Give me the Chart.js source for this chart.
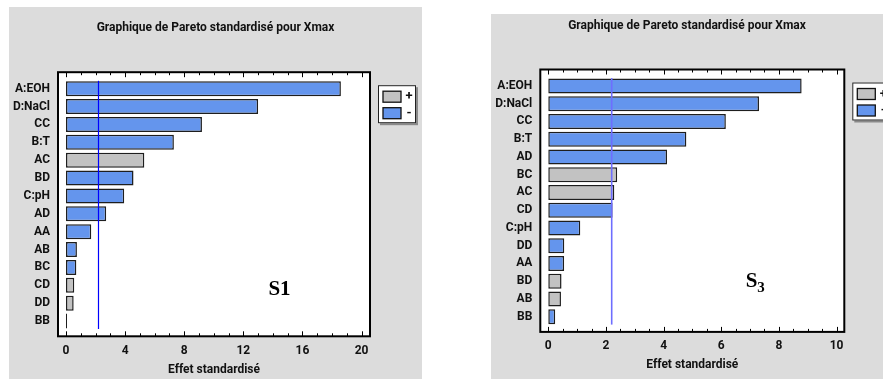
<!DOCTYPE html>
<html>
<head>
<meta charset="utf-8">
<script src="https://cdn.jsdelivr.net/npm/chart.js@4.4.1/dist/chart.umd.min.js"></script>
<style>
  html, body { margin: 0; padding: 0; background: #ffffff; width: 883px; height: 379px; overflow: hidden; }
  .panel { position: absolute; background: #dcdcdc; }
  #panelS1 { left: 9px; top: 7px; width: 413px; height: 372px; }
  #panelS3 { left: 491px; top: 14px; width: 392px; height: 365px; }
  canvas { display: block; }
</style>
</head>
<body>
<div class="panel" id="panelS1"><canvas id="chartS1" width="413" height="372"></canvas></div>
<div class="panel" id="panelS3"><canvas id="chartS3" width="392" height="365"></canvas></div>
<script>
// Standardized Pareto charts of the effects on Xmax
const chartTitle = 'Graphique de Pareto standardisé pour Xmax';
const xAxisTitle = 'Effet standardisé';
const legendLabels = ['+', '-'];

// S1 design
const s1Factors = ['A:EOH', 'D:NaCl', 'CC', 'B:T', 'AC', 'BD', 'C:pH', 'AD', 'AA', 'AB', 'BC', 'CD', 'DD', 'BB'];
const s1Effects = [18.6, 13.0, 9.2, 7.3, 5.3, 4.57, 3.94, 2.72, 1.71, 0.74, 0.70, 0.56, 0.52, 0.07];
const s1Signs   = ['-', '-', '-', '-', '+', '-', '-', '-', '-', '-', '-', '+', '+', '-'];
const s1Ticks = [0, 4, 8, 12, 16, 20];
const s1Critical = 2.2;

// S3 design
const s3Factors = ['A:EOH', 'D:NaCl', 'CC', 'B:T', 'AD', 'BC', 'AC', 'CD', 'C:pH', 'DD', 'AA', 'BD', 'AB', 'BB'];
const s3Effects = [8.79, 7.31, 6.16, 4.79, 4.12, 2.39, 2.29, 2.23, 1.11, 0.555, 0.55, 0.46, 0.44, 0.24];
const s3Signs   = ['-', '-', '-', '-', '-', '+', '+', '-', '-', '-', '-', '+', '+', '-'];
const s3Ticks = [0, 2, 4, 6, 8, 10];
const s3Critical = 2.2;

const GREY = '#c2c2c2';
const BLUE = '#6495ed';
const EDGE = '#1e1e1e';
const SANS = 'Roboto, "Liberation Sans", Arial, sans-serif';
const SERIF = '"Liberation Serif", "Times New Roman", serif';

// Frame, ticks, critical line, legend and series tag
const paretoDecor = {
  id: 'paretoDecor',
  beforeDatasetsDraw(chart, args, o) {
    const { ctx, chartArea: a } = chart;
    ctx.save();
    ctx.fillStyle = '#ffffff';
    ctx.fillRect(a.left, a.top - o.padTop, a.right - a.left, a.bottom - a.top + o.padTop + o.padBottom);
    ctx.restore();
  },
  afterDatasetsDraw(chart, args, o) {
    const { ctx, chartArea: a } = chart;
    const xs = chart.scales.x;
    const top = a.top - o.padTop;
    const bottom = a.bottom + o.padBottom;
    ctx.save();

    // critical value line
    const cx = xs.getPixelForValue(o.critical);
    ctx.strokeStyle = o.lineColor;
    ctx.lineWidth = o.lineWidth;
    ctx.beginPath();
    ctx.moveTo(cx, a.top + 1);
    ctx.lineTo(cx, a.bottom - 1);
    ctx.stroke();

    // frame
    ctx.strokeStyle = '#000000';
    ctx.lineWidth = 2;
    ctx.strokeRect(a.left, top, a.right - a.left, bottom - top);

    // inward ticks, top and bottom
    ctx.lineWidth = 1;
    const first = o.ticks[0], last = o.ticks[o.ticks.length - 1];
    for (let v = first; v <= last + 1e-9; v += o.minorStep) {
      const isMajor = o.ticks.some(t => Math.abs(t - v) < 1e-9);
      const len = isMajor ? 5 : 3;
      const px = Math.round(xs.getPixelForValue(v)) + 0.5;
      ctx.beginPath();
      ctx.moveTo(px, top);
      ctx.lineTo(px, top + len);
      ctx.moveTo(px, bottom);
      ctx.lineTo(px, bottom - len);
      ctx.stroke();
    }

    // legend box
    const bx = a.right + 8, by = top + 13, bw = 38, bh = 38;
    ctx.fillStyle = '#8a8a8a';
    ctx.fillRect(bx + 2, by + 2, bw, bh);
    ctx.fillStyle = '#ffffff';
    ctx.fillRect(bx, by, bw, bh);
    ctx.strokeStyle = '#222222';
    ctx.lineWidth = 1;
    ctx.strokeRect(bx + 0.5, by + 0.5, bw - 1, bh - 1);
    chart.data.datasets.forEach((ds, i) => {
      const sy = by + 6 + i * 16.5;
      ctx.fillStyle = ds.backgroundColor;
      ctx.fillRect(bx + 5, sy, 18, 11);
      ctx.strokeStyle = '#111111';
      ctx.lineWidth = 1.3;
      ctx.strokeRect(bx + 5, sy, 18, 11);
      ctx.fillStyle = '#111111';
      ctx.font = 'bold 13px ' + SANS;
      ctx.textAlign = 'center';
      ctx.textBaseline = 'middle';
      ctx.fillText(ds.label, bx + 31, sy + 6);
    });

    // series tag
    ctx.fillStyle = '#000000';
    ctx.textBaseline = 'alphabetic';
    ctx.textAlign = 'left';
    ctx.font = 'bold 21px ' + SERIF;
    const mainW = ctx.measureText(o.tag).width;
    let subW = 0;
    if (o.tagSub) {
      ctx.font = 'bold 15px ' + SERIF;
      subW = ctx.measureText(o.tagSub).width;
    }
    const tx = a.left + o.tagX * (a.right - a.left) - (mainW + subW) / 2;
    const ty = top + o.tagY * (bottom - top);
    ctx.font = 'bold 21px ' + SERIF;
    ctx.fillText(o.tag, tx, ty);
    if (o.tagSub) {
      ctx.font = 'bold 15px ' + SERIF;
      ctx.fillText(o.tagSub, tx + mainW, ty + 5);
    }
    ctx.restore();
  }
};

function splitBySign(effects, signs, sign) {
  return effects.map((v, i) => (signs[i] === sign ? v : null));
}

function makePareto(canvasId, factors, effects, signs, ticks, critical, view) {
  const font = { family: SANS, size: 12, weight: 'bold' };
  return new Chart(document.getElementById(canvasId), {
    type: 'bar',
    data: {
      labels: factors,
      datasets: [
        { label: legendLabels[0], data: splitBySign(effects, signs, '+'), backgroundColor: GREY },
        { label: legendLabels[1], data: splitBySign(effects, signs, '-'), backgroundColor: BLUE }
      ]
    },
    options: {
      indexAxis: 'y',
      responsive: false,
      animation: false,
      devicePixelRatio: 1,
      datasets: {
        bar: {
          borderColor: EDGE,
          borderWidth: 1.5,
          borderSkipped: false,
          barPercentage: 0.84,
          categoryPercentage: 1
        }
      },
      layout: { padding: { left: 0, top: 0, right: 0, bottom: view.bottom } },
      scales: {
        x: {
          type: 'linear',
          stacked: true,
          min: view.xMin,
          max: view.xMax,
          afterBuildTicks: s => { s.ticks = ticks.map(v => ({ value: v })); },
          afterFit: s => { s.height = 49; },
          grid: { display: false, drawTicks: false },
          border: { display: false },
          ticks: { font, color: '#111111', padding: 13.3, maxRotation: 0, autoSkip: false },
          title: { display: true, text: xAxisTitle, font, color: '#111111', padding: { top: 0, bottom: 2.3 } }
        },
        y: {
          type: 'category',
          stacked: true,
          offset: true,
          afterFit: s => { s.width = view.left; },
          grid: { display: false, drawTicks: false },
          border: { display: false },
          ticks: { font, color: '#111111', padding: 8, autoSkip: false }
        },
        // empty right-hand band that holds the legend
        legendBand: {
          type: 'category',
          position: 'right',
          offset: true,
          afterFit: s => { s.width = view.right; },
          grid: { display: false, drawTicks: false },
          border: { display: false },
          ticks: { display: false }
        }
      },
      plugins: {
        legend: { display: false },
        tooltip: { enabled: false },
        title: {
          display: true,
          text: chartTitle,
          color: '#111111',
          font: { family: SANS, size: 12, weight: 'bold', lineHeight: 1.2 },
          padding: { top: view.titleTop, bottom: view.titleBottom }
        },
        paretoDecor: {
          critical,
          ticks,
          minorStep: view.minorStep,
          padTop: 7.6,
          padBottom: 6.3,
          lineColor: view.lineColor,
          lineWidth: view.lineWidth,
          tag: view.tag,
          tagSub: view.tagSub,
          tagX: view.tagX,
          tagY: view.tagY
        }
      }
    },
    plugins: [paretoDecor]
  });
}

makePareto('chartS1', s1Factors, s1Effects, s1Signs, s1Ticks, s1Critical, {
  left: 49, right: 52, bottom: 0, titleTop: 13.8, titleBottom: 44.6,
  xMin: -0.54, xMax: 20.57, minorStep: 1,
  lineColor: '#0000ff', lineWidth: 1.2,
  tag: 'S1', tagSub: '', tagX: 0.71, tagY: 0.845
});

makePareto('chartS3', s3Factors, s3Effects, s3Signs, s3Ticks, s3Critical, {
  left: 49.3, right: 38.7, bottom: 4.4, titleTop: 4.8, titleBottom: 43.9,
  xMin: -0.277, xMax: 10.27, minorStep: 0.5,
  lineColor: '#6e6eff', lineWidth: 1.6,
  tag: 'S', tagSub: '3', tagX: 0.707, tagY: 0.83
});
</script>
</body>
</html>
